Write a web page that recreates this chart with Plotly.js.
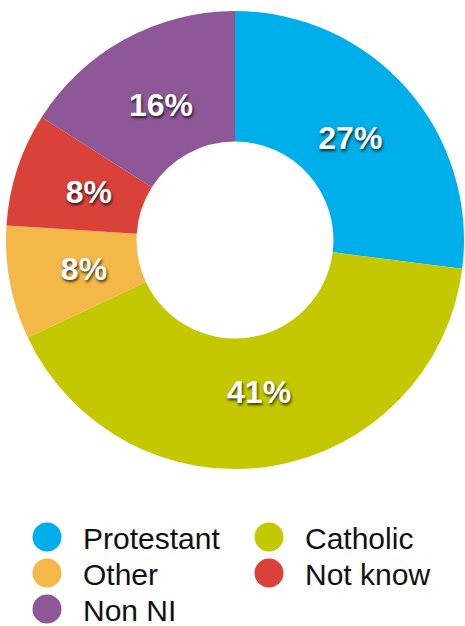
<!DOCTYPE html>
<html>
<head>
<meta charset="utf-8">
<script src="https://cdn.plot.ly/plotly-3.0.1.min.js"></script>
<style>html,body{margin:0;padding:0;background:#fff;}#chart{width:465px;height:626px;}</style>
</head>
<body>
<div id="chart"></div>
<script>
const categories = ["Protestant", "Catholic", "Other", "Not know", "Non NI"];
const values = [27, 41, 8, 8, 16];
const colors = ["#00AEEA", "#C3C800", "#F4B848", "#DA4139", "#8E5898"];

// label groups: wide slices and narrow slices (label placement helpers)
const wideLabels = ["%{percent}", "%{percent}", "", "", "%{percent}"];
const narrowLabels = ["", "", "%{percent}", "%{percent}", ""];

const W = 465, H = 626, CX = 235, CY = 240, R = 229;
function dom(r) {
  return { x: [(CX - r) / W, (CX + r) / W], y: [1 - (CY + r) / H, 1 - (CY - r) / H] };
}
const labelFont = {
  family: "Liberation Sans, Arial, sans-serif",
  size: 32,
  weight: "bold",
  color: "#ffffff",
  shadow: "1px 2px 3px rgba(0,0,0,0.75)"
};
const common = {
  type: "pie",
  labels: categories,
  values: values,
  sort: false,
  direction: "clockwise",
  rotation: 0,
  hole: 0.43,
  hoverinfo: "skip"
};

const main = Object.assign({}, common, {
  marker: { colors: colors, line: { width: 0 } },
  textinfo: "none",
  domain: dom(R)
});
const helperWide = Object.assign({}, common, {
  marker: { colors: colors.map(() => "rgba(0,0,0,0)"), line: { width: 0 } },
  texttemplate: wideLabels,
  textposition: "inside",
  insidetextorientation: "horizontal",
  textfont: labelFont,
  showlegend: false,
  domain: dom(215)
});
const helperNarrow = Object.assign({}, common, {
  marker: { colors: colors.map(() => "rgba(0,0,0,0)"), line: { width: 0 } },
  texttemplate: narrowLabels,
  textposition: "inside",
  insidetextorientation: "horizontal",
  textfont: labelFont,
  showlegend: false,
  domain: dom(192)
});

const layout = {
  width: W,
  height: H,
  margin: { l: 0, r: 0, t: 0, b: 0, autoexpand: false },
  paper_bgcolor: "#ffffff",
  showlegend: true,
  legend: {
    orientation: "h",
    x: 11 / W,
    xanchor: "left",
    y: 1 - 511 / H,
    yanchor: "top",
    entrywidth: 145,
    entrywidthmode: "pixels",
    itemwidth: 62,
    traceorder: "normal",
    font: { family: "Liberation Sans, Arial, sans-serif", size: 30, color: "#111111" },
    bgcolor: "rgba(0,0,0,0)"
  }
};

Plotly.newPlot("chart", [main, helperWide, helperNarrow], layout, { displayModeBar: false, staticPlot: true }).then(function () {
  const r = 14.5;
  const circle = "M" + r + ",0A" + r + "," + r + " 0 1,1 0,-" + r + "A" + r + "," + r + " 0 0,1 " + r + ",0Z";
  document.querySelectorAll(".legend .legendpoints path").forEach(function (p) {
    p.setAttribute("d", circle);
    p.style.strokeWidth = "0";
  });
  // tighten legend row spacing to match reference
  const items = Array.from(document.querySelectorAll(".legend .traces"));
  const parsed = items.map(function (g) {
    const m = /translate\(\s*([-\d.]+)[ ,]+([-\d.]+)\s*\)/.exec(g.getAttribute("transform") || "");
    return m ? { g: g, x: parseFloat(m[1]), y: parseFloat(m[2]) } : null;
  }).filter(Boolean);
  const ys = Array.from(new Set(parsed.map(p => p.y))).sort((a, b) => a - b);
  parsed.forEach(function (p) {
    const idx = ys.indexOf(p.y);
    p.g.setAttribute("transform", "translate(" + p.x + "," + (ys[0] + idx * 36) + ")");
  });
});
</script>
</body>
</html>
